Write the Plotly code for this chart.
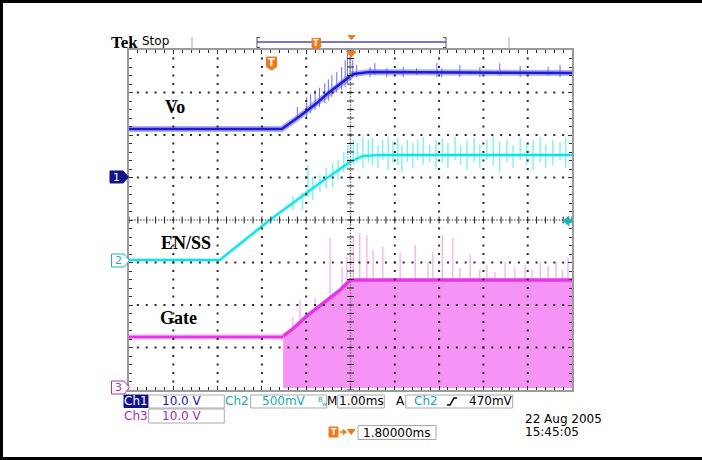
import plotly.graph_objects as go
import numpy as np

# ---------------- data (time in ms across the 10-div screen, values in volts) ----------------
# Channel settings (volts/div, ground offset in divisions)
CH1_SCALE, CH1_OFF = 10.0, 1.01   # Vo
CH2_SCALE, CH2_OFF = 0.5, -0.94   # EN/SS
CH3_SCALE, CH3_OFF = 10.0, -3.95  # Gate

vo_t = [0.0, 3.45, 3.86, 4.24, 4.47, 4.83, 5.06, 5.44, 10.0]
vo_v = [11.3, 11.3, 14.35, 17.41, 19.53, 22.35, 24.24, 24.71, 24.47]

ss_t = [0.0, 2.05, 3.18, 4.31, 4.99, 5.28, 5.67, 10.0]
ss_v = [0.0, 0.0, 0.471, 0.906, 1.153, 1.224, 1.235, 1.235]

gate_pre_t = [0.0, 3.48]
gate_pre_v = [12.0, 12.0]
gate_env_t = [3.48, 3.71, 4.01, 4.46, 4.76, 4.99, 10.0]
gate_env_v = [12.2, 14.0, 16.9, 20.6, 23.0, 25.4, 25.4]
gate_low_v = 0.0

# spikes: (time, low, high)
vo_spk_t = [3.80, 4.01, 4.10, 4.20, 4.30, 4.42, 4.50, 4.58, 4.69, 4.80, 4.88, 4.93, 4.99, 5.05, 5.14,
            5.44, 5.55, 5.82, 6.19, 6.49, 6.95, 7.06, 7.47, 7.92, 8.37, 8.83, 9.46, 9.73]
vo_spk_lo = [13.5, 14.1, 15.0, 15.8, 16.5, 17.4, 18.0, 18.8, 19.8, 20.5, 21.2, 22.1, 22.8, 23.5, 23.5,
             23.5, 24.0, 23.5, 23.5, 24.0, 23.5, 23.5, 23.5, 23.5, 23.8, 23.5, 23.8, 23.5]
vo_spk_hi = [16.5, 18.8, 19.5, 20.5, 21.0, 22.1, 23.0, 24.0, 24.7, 25.9, 27.5, 29.2, 28.2, 27.5, 26.4,
             25.9, 26.8, 25.6, 25.9, 25.6, 26.8, 25.6, 26.4, 25.9, 26.8, 26.1, 25.9, 26.4]

ss_spk_t = [3.70, 3.91, 4.04, 4.15, 4.31, 4.45, 4.60, 4.72, 4.85, 4.94, 5.06, 5.15, 5.28, 5.40, 5.49,
            5.62, 5.73, 5.85, 5.96, 6.07, 6.16, 6.28, 6.41, 6.52, 6.64, 6.79, 6.93, 7.07, 7.20, 7.36,
            7.49, 7.63, 7.79, 7.92, 8.08, 8.22, 8.37, 8.53, 8.67, 8.83, 8.98, 9.12, 9.28, 9.41, 9.57,
            9.73, 9.86]
ss_spk_lo = [0.588, 0.588, 0.741, 0.706, 0.800, 0.847, 0.859, 0.941, 1.035, 1.082, 1.118, 1.153, 1.082,
             1.153, 1.118, 1.082, 1.176, 1.059, 1.141, 1.118, 1.035, 1.153, 1.082, 1.176, 1.118, 1.153,
             1.059, 1.141, 1.082, 1.176, 1.118, 1.059, 1.153, 1.082, 1.176, 1.118, 1.035, 1.153, 1.082,
             1.176, 1.118, 1.059, 1.153, 1.082, 1.118, 1.176, 1.082]
ss_spk_hi = [0.753, 0.788, 1.118, 0.976, 1.000, 1.082, 1.141, 1.176, 1.271, 1.353, 1.412, 1.376, 1.447,
             1.412, 1.435, 1.353, 1.412, 1.447, 1.388, 1.435, 1.353, 1.412, 1.376, 1.412, 1.447, 1.353,
             1.412, 1.435, 1.376, 1.447, 1.353, 1.412, 1.435, 1.353, 1.412, 1.447, 1.388, 1.412, 1.353,
             1.435, 1.376, 1.412, 1.447, 1.353, 1.412, 1.388, 1.435]

gate_spk_t = [3.70, 3.86, 4.20, 4.54, 4.81, 4.92, 5.06, 5.21, 5.37, 5.51, 5.73, 6.12, 6.46, 6.75, 6.86,
              7.07, 7.31, 7.47, 7.70, 7.92, 8.08, 8.26, 8.49, 8.71, 8.94, 9.10, 9.28, 9.46, 9.64, 9.78, 9.91]
gate_spk_hi = [16.7, 20.7, 21.2, 35.3, 28.5, 30.8, 35.5, 36.5, 36.0, 32.5, 33.2, 31.8, 33.6, 29.6, 32.0,
               36.0, 35.3, 28.2, 31.3, 27.8, 28.9, 27.3, 29.6, 28.2, 28.9, 27.8, 29.6, 28.7, 29.6, 27.8, 30.6]

# ---------------- helpers ----------------
W, H = 702, 460
L, R, T, B = 129, 572, 50, 390


def px(x):
    return (x - L) / (R - L)


def py(y):
    return (B - y) / (B - T)


def to_div(vals, scale, off):
    return [off + v / scale for v in vals]


def seg_xy(ts, lo, hi, scale, off):
    xs, ys = [], []
    for t, a, b in zip(ts, lo, hi):
        xs += [t, t, None]
        ys += [off + a / scale, off + b / scale, None]
    return xs, ys


BLUE = "#1c1cd0"
BLUE_F = "rgba(90,90,245,0.5)"
CYAN = "#14e0e4"
CYAN_F = "rgba(110,245,245,0.6)"
MAG = "#e636e6"
MAG_F = "rgba(240,130,240,0.7)"
ORANGE = "#f2781e"

fig = go.Figure()

# Vo
fig.add_trace(go.Scatter(x=vo_t, y=to_div(vo_v, CH1_SCALE, CH1_OFF), mode="lines",
                         line=dict(color=BLUE_F, width=6), hoverinfo="skip"))
sx, sy = seg_xy(vo_spk_t, vo_spk_lo, vo_spk_hi, CH1_SCALE, CH1_OFF)
fig.add_trace(go.Scatter(x=sx, y=sy, mode="lines", line=dict(color="#6a6aff", width=1), hoverinfo="skip"))
fig.add_trace(go.Scatter(x=vo_t, y=to_div(vo_v, CH1_SCALE, CH1_OFF), mode="lines",
                         line=dict(color=BLUE, width=2.5), hoverinfo="skip"))

# EN/SS
fig.add_trace(go.Scatter(x=ss_t, y=to_div(ss_v, CH2_SCALE, CH2_OFF), mode="lines",
                         line=dict(color=CYAN_F, width=4), hoverinfo="skip"))
sx, sy = seg_xy(ss_spk_t, ss_spk_lo, ss_spk_hi, CH2_SCALE, CH2_OFF)
fig.add_trace(go.Scatter(x=sx, y=sy, mode="lines", line=dict(color="#45eef0", width=1), hoverinfo="skip"))
fig.add_trace(go.Scatter(x=ss_t, y=to_div(ss_v, CH2_SCALE, CH2_OFF), mode="lines",
                         line=dict(color=CYAN, width=2), hoverinfo="skip"))

# Gate spikes (from ground up, hidden inside the fill)
sx, sy = seg_xy(gate_spk_t, [gate_low_v] * len(gate_spk_t), gate_spk_hi, CH3_SCALE, CH3_OFF)
fig.add_trace(go.Scatter(x=sx, y=sy, mode="lines", line=dict(color="#f296f2", width=1), hoverinfo="skip"))
# Gate switching envelope fill
poly_t = gate_env_t + [gate_env_t[-1], gate_env_t[0]]
poly_v = gate_env_v + [gate_low_v, gate_low_v]
fig.add_trace(go.Scatter(x=poly_t, y=to_div(poly_v, CH3_SCALE, CH3_OFF), mode="lines", fill="toself",
                         fillcolor="rgb(246,148,246)", line=dict(color="rgba(0,0,0,0)", width=0),
                         hoverinfo="skip"))
fig.add_trace(go.Scatter(x=gate_env_t, y=to_div(gate_env_v, CH3_SCALE, CH3_OFF), mode="lines",
                         line=dict(color=MAG, width=3.5), hoverinfo="skip"))
fig.add_trace(go.Scatter(x=gate_pre_t, y=to_div(gate_pre_v, CH3_SCALE, CH3_OFF), mode="lines",
                         line=dict(color=MAG_F, width=5), hoverinfo="skip"))
fig.add_trace(go.Scatter(x=gate_pre_t, y=to_div(gate_pre_v, CH3_SCALE, CH3_OFF), mode="lines",
                         line=dict(color=MAG, width=2.5), hoverinfo="skip"))

# graticule dots (drawn over the traces, like the scope overlay)
minor = np.round(np.arange(0.2, 10.0, 0.2), 3)
minor_y = np.round(np.arange(-3.8, 4.0, 0.2), 3)
gx, gy = [], []
for i in [1, 2, 3, 4, 6, 7, 8, 9]:
    gx += [i] * len(minor_y)
    gy += list(minor_y)
for j in [-3, -2, -1, 1, 2, 3]:
    gx += list(minor)
    gy += [j] * len(minor)
fig.add_trace(go.Scatter(x=gx, y=gy, mode="markers",
                         marker=dict(symbol="square", size=2, color="#2a2a2a", line=dict(width=0)),
                         hoverinfo="skip"))

# center cross: fine dotted line + tick marks
fine_x = np.round(np.arange(0, 10.001, 0.067), 3)
fine_y = np.round(np.arange(-4, 4.001, 0.067), 3)
fig.add_trace(go.Scatter(x=list(fine_x) + [None] + [5] * len(fine_y),
                         y=[0] * len(fine_x) + [None] + list(fine_y), mode="markers",
                         marker=dict(symbol="square", size=1.5, color="#777", line=dict(width=0)),
                         hoverinfo="skip"))
cx = np.round(np.arange(0, 10.001, 0.2), 3)
cy = np.round(np.arange(-4, 4.001, 0.2), 3)
fig.add_trace(go.Scatter(x=cx, y=[0] * len(cx), mode="markers",
                         marker=dict(symbol="line-ns", size=5, line=dict(width=1, color="#222")),
                         hoverinfo="skip"))
fig.add_trace(go.Scatter(x=[5] * len(cy), y=cy, mode="markers",
                         marker=dict(symbol="line-ew", size=5, line=dict(width=1, color="#222")),
                         hoverinfo="skip"))

shapes = []


def path(pts):
    s = "M " + " L ".join(f"{px(a):.5f},{py(b):.5f}" for a, b in pts) + " Z"
    return s


def rect(x0, y0, x1, y1, line="#a8a8a8", fill="white", w=1):
    shapes.append(dict(type="rect", xref="paper", yref="paper", x0=px(x0), x1=px(x1), y0=py(y1), y1=py(y0),
                       line=dict(color=line, width=w), fillcolor=fill, layer="above"))


def pshape(pts, fill, line=None, w=1):
    shapes.append(dict(type="path", xref="paper", yref="paper", path=path(pts), fillcolor=fill,
                       line=dict(color=line or fill, width=w), layer="above"))


def hline(x0, x1, y, color, w):
    shapes.append(dict(type="line", xref="paper", yref="paper", x0=px(x0), x1=px(x1), y0=py(y), y1=py(y),
                       line=dict(color=color, width=w), layer="above"))


def vline(x, y0, y1, color, w):
    shapes.append(dict(type="line", xref="paper", yref="paper", x0=px(x), x1=px(x), y0=py(y0), y1=py(y1),
                       line=dict(color=color, width=w), layer="above"))


# outer black frame (left, top, bottom)
vline(1.5, 0, 460, "black", 3)
hline(0, 702, 1.5, "black", 3)
hline(0, 702, 458.5, "black", 3)

# header record bar
vline(192, 37, 49, "#aaaaaa", 1)
vline(509, 37, 49, "#aaaaaa", 1)
hline(257, 446, 42, "#4848c8", 1.5)
vline(257, 37, 48, "#555", 1)
vline(446, 37, 48, "#555", 1)
hline(257, 260, 37.5, "#555", 1)
hline(257, 260, 47.5, "#555", 1)
hline(443, 446, 37.5, "#555", 1)
hline(443, 446, 47.5, "#555", 1)
pshape([(312, 38.5), (320.5, 38.5), (320.5, 47), (316.2, 49.5), (312, 47)], ORANGE)
pshape([(348, 35.5), (355, 35.5), (351.5, 39.5)], ORANGE)
# in-graticule markers
pshape([(266.5, 57), (276.5, 57), (276.5, 67), (271.5, 70), (266.5, 67)], ORANGE)
pshape([(346.5, 51.5), (356, 51.5), (351.2, 57)], ORANGE)
# trigger level arrow (right)
pshape([(563, 221), (569, 216.5), (569, 219.5), (572, 219.5), (572, 222.5), (569, 222.5), (569, 225.5)],
       "#18b4b4")
# channel ground markers
pshape([(110, 171), (123, 171), (128.5, 177), (123, 183), (110, 183)], "#14148c")
pshape([(111.5, 254), (124, 254), (129.5, 260.5), (124, 267), (111.5, 267)], "white", "#1cb4b4", 1)
pshape([(111.5, 381), (124, 381), (129.5, 387.5), (124, 394), (111.5, 394)], "white", "#b030b0", 1)

# status boxes
rect(124, 395, 148.5, 407.5, line="#10108a", fill="#10108a")
rect(148.7, 395, 224.3, 408)
rect(250.7, 395, 326.7, 408)
rect(337.7, 395, 384.3, 408)
rect(405.7, 395, 512.7, 408)
rect(148.7, 409, 224.3, 423)
rect(358, 425.5, 436, 439.5)
# trigger position icon
pshape([(329, 427), (338, 427), (338, 437), (329, 437)], ORANGE)
hline(339.5, 345, 432, ORANGE, 1.5)
pshape([(343, 429.5), (346.5, 432), (343, 434.5)], ORANGE)
pshape([(347.5, 429.5), (355, 429.5), (351.2, 434.5)], ORANGE)
# rising edge symbol
shapes.append(dict(type="path", xref="paper", yref="paper",
                   path=f"M {px(447):.5f},{py(405):.5f} L {px(450):.5f},{py(405):.5f} "
                        f"L {px(454):.5f},{py(398):.5f} L {px(457):.5f},{py(398):.5f}",
                   line=dict(color="black", width=1.5), layer="above"))

ann = []


def text(x, y, s, color="black", size=12, family="DejaVu Sans", anchor="center", bold=False):
    if bold:
        s = f"<b>{s}</b>"
    ann.append(dict(x=px(x), y=py(y), xref="paper", yref="paper", text=s, showarrow=False,
                    xanchor=anchor, yanchor="middle", font=dict(color=color, size=size, family=family)))


SERIF = "Liberation Serif"
text(109, 42, "Tek", size=17, family=SERIF, anchor="left", bold=True)
text(140, 41, "Stop", size=12, anchor="left")
text(316.2, 43.2, "T", color="white", size=8, bold=True)
text(271.5, 62.5, "T", color="white", size=10, bold=True)
text(333.5, 432, "T", color="white", size=8, bold=True)
text(116.5, 177, "1", color="white", size=11)
text(118, 260.5, "2", color="#1cb4b4", size=11)
text(118, 387.5, "3", color="#b030b0", size=11)

text(175, 107, "Vo", size=18, family=SERIF, bold=True)
text(186, 243, "EN/SS", size=18, family=SERIF, bold=True)
text(178, 318, "Gate", size=18, family=SERIF, bold=True)

TEAL = "#18a8ac"
PURP = "#b02ab0"
text(136, 401, "Ch1", color="white", size=12)
text(181.7, 401, "10.0 V", color="#1a1aa8", size=12)
text(237, 401, "Ch2", color=TEAL, size=12)
text(283.7, 401, "500mV", color=TEAL, size=12)
text(320, 400, "B", color=TEAL, size=7)
text(324, 403, "w", color=TEAL, size=6)
text(332.3, 401, "M", size=12)
text(361.3, 401, "1.00ms", size=12)
text(400.5, 401, "A", size=12)
text(426.3, 401, "Ch2", color=TEAL, size=12)
text(490.8, 401, "470mV", size=12)
text(136, 416, "Ch3", color=PURP, size=12)
text(181.7, 416, "10.0 V", color=PURP, size=12)
text(397, 432.5, "1.80000ms", size=12)
text(522.7, 419.3, "22 Aug 2005", size=12, anchor="left")
text(522.7, 432.3, "15:45:05", size=12, anchor="left")

axis_common = dict(showticklabels=False, showgrid=False, zeroline=False, showline=True,
                   linecolor="#9a9a9a", linewidth=2, mirror="ticks", ticks="inside", ticklen=4,
                   tickcolor="#333", tickwidth=1, fixedrange=True)
fig.update_layout(
    width=W, height=H,
    margin=dict(l=L, r=W - R, t=T, b=H - B, pad=0),
    paper_bgcolor="white", plot_bgcolor="white",
    showlegend=False,
    xaxis=dict(range=[0, 10], dtick=1, tick0=0,
               minor=dict(dtick=0.2, ticks="inside", ticklen=3, tickcolor="#333", showgrid=False),
               **axis_common),
    yaxis=dict(range=[-4, 4], dtick=1, tick0=0,
               minor=dict(dtick=0.2, ticks="inside", ticklen=3, tickcolor="#333", showgrid=False),
               **axis_common),
    shapes=shapes,
    annotations=ann,
)

fig.write_html("out.html", config={"displayModeBar": False},
               post_script="document.body.style.margin='0';document.body.style.padding='0';")
